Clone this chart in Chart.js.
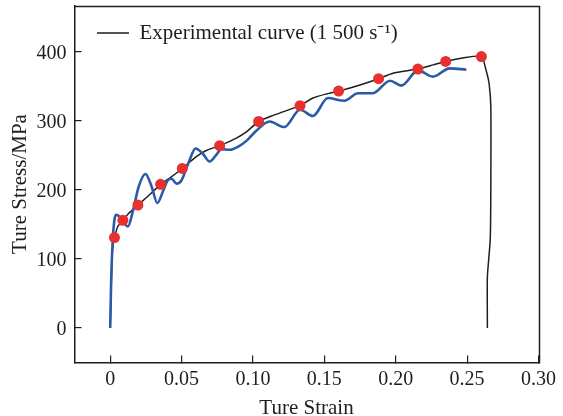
<!DOCTYPE html>
<html>
<head>
<meta charset="utf-8">
<script src="https://cdn.jsdelivr.net/npm/chart.js@4"></script>
<style>
  html, body { margin: 0; padding: 0; background: #fff; }
  #wrap { width: 563px; height: 416px; position: relative; }
</style>
</head>
<body>
<div id="wrap"><canvas id="c"></canvas></div>
<script>
// ---- Data ----
const expStrain = [0, 0.0005, 0.001, 0.0014, 0.002, 0.003, 0.0053, 0.0089, 0.013, 0.0194, 0.0276, 0.0353, 0.0416, 0.0505, 0.0603, 0.0673, 0.0767, 0.0884, 0.0954, 0.104, 0.113, 0.121, 0.133, 0.142, 0.1516, 0.160, 0.175, 0.188, 0.198, 0.2155, 0.2263, 0.235, 0.247, 0.260, 0.2637, 0.2654, 0.2666, 0.2666, 0.2662, 0.2642, 0.2642];
const expStress = [0, 40, 80, 108, 120, 131, 147, 156, 166, 178, 193, 208, 217, 231, 248, 257, 264, 275, 284, 299, 307, 313, 322, 333, 339, 343, 352, 361, 369, 375, 381, 386, 391, 393, 370, 354, 321, 200, 128, 74, 0];

const simStrain = [0, 0.0003, 0.0007, 0.0018, 0.003, 0.0042, 0.0077, 0.0124, 0.016, 0.020, 0.0247, 0.029, 0.033, 0.037, 0.0404, 0.043, 0.0465, 0.050, 0.055, 0.0598, 0.065, 0.0696, 0.074, 0.078, 0.084, 0.090, 0.096, 0.102, 0.1117, 0.122, 0.133, 0.142, 0.1525, 0.164, 0.1736, 0.184, 0.196, 0.204, 0.2156, 0.226, 0.2378, 0.2495];
const simStress = [0, 30, 70, 128, 157, 164, 159, 147, 170, 205, 223, 205, 181, 198, 214, 216, 209, 214, 240, 260, 252, 241, 250, 259, 258, 263, 272, 285, 299, 291, 316, 307, 333, 329, 340, 340, 358, 351, 373, 364, 376, 374];

const markStrain = [0.003, 0.0089, 0.0194, 0.0353, 0.0505, 0.0767, 0.104, 0.133, 0.160, 0.188, 0.2155, 0.235, 0.260];
const markStress = [131, 156, 178, 208, 231, 264, 299, 322, 343, 361, 375, 386, 393];

const xTickLabels = ['0', '0.05', '0.10', '0.15', '0.20', '0.25', '0.30'];
const yTickLabels = ['0', '100', '200', '300', '400'];

const seriesNames = ['Experimental curve (1 500 s\u207B\u00B9)', 'Simulated curve', 'Sample points'];
const xTitle = 'Ture Strain';
const yTitle = 'Ture Stress/MPa';

// ---- Build chart ----
const toPts = (xs, ys) => xs.map((x, i) => ({ x: x, y: ys[i] }));
const FONT = 'Liberation Serif, Times New Roman, serif';
const INK = '#1e1e1e';

const framePlugin = {
  id: 'frame',
  afterDraw(chart) {
    const a = chart.chartArea, ctx = chart.ctx;
    ctx.save();
    ctx.strokeStyle = INK;
    ctx.lineWidth = 1.5;
    ctx.beginPath();
    ctx.moveTo(Math.round(a.left) - 0.5, Math.round(a.top) + 0.5);
    ctx.lineTo(Math.round(a.right) + 0.5, Math.round(a.top) + 0.5);
    ctx.lineTo(Math.round(a.right) + 0.5, Math.round(a.bottom) + 0.5);
    ctx.stroke();
    ctx.restore();
  }
};

new Chart(document.getElementById('c'), {
  type: 'scatter',
  data: {
    datasets: [
      {
        label: seriesNames[0],
        data: toPts(expStrain, expStress),
        showLine: true,
        borderColor: INK,
        backgroundColor: INK,
        borderWidth: 1.5,
        pointRadius: 0,
        tension: 0.2,
        order: 3
      },
      {
        label: seriesNames[1],
        data: toPts(simStrain, simStress),
        showLine: true,
        borderColor: '#2a5ba8',
        backgroundColor: '#2a5ba8',
        borderWidth: 2.6,
        pointRadius: 0,
        cubicInterpolationMode: 'monotone',
        order: 2
      },
      {
        label: seriesNames[2],
        data: toPts(markStrain, markStress),
        showLine: false,
        pointRadius: 5.5,
        pointBackgroundColor: '#e8302e',
        pointBorderColor: '#e8302e',
        pointBorderWidth: 0,
        order: 1
      }
    ]
  },
  options: {
    responsive: true,
    maintainAspectRatio: false,
    animation: false,
    layout: { padding: { left: 0, top: 5.5, right: 24.5, bottom: 0 } },
    plugins: {
      tooltip: { enabled: false },
      legend: {
        position: 'chartArea',
        align: 'start',
        labels: {
          filter: (item) => item.datasetIndex === 0,
          boxWidth: 32,
          boxHeight: 0,
          padding: 22.5,
          color: INK,
          font: { family: FONT, size: 21 }
        }
      }
    },
    scales: {
      x: {
        type: 'linear',
        position: 'bottom',
        min: -0.025,
        max: 0.30,
        afterFit: (s) => { s.height = 53.5; s.paddingLeft = 0; s.paddingRight = 0; },
        ticks: {
          stepSize: 0.05,
          includeBounds: false,
          color: INK,
          padding: 12.5,
          maxRotation: 0,
          font: { family: FONT, size: 20 },
          callback: (v, i) => xTickLabels[i]
        },
        grid: { display: true, drawOnChartArea: false, drawTicks: true, tickLength: -7, color: INK, lineWidth: 1.2 },
        border: { display: true, color: INK, width: 1.5 },
        title: { display: true, text: xTitle, color: INK, font: { family: FONT, size: 21 }, padding: { top: 0, bottom: -5 } }
      },
      y: {
        type: 'linear',
        position: 'left',
        min: -50,
        max: 467,
        afterFit: (s) => { s.width = 74.5; s.paddingTop = 0; s.paddingBottom = 0; },
        ticks: {
          stepSize: 100,
          includeBounds: false,
          color: INK,
          padding: 15,
          labelOffset: 1.5,
          font: { family: FONT, size: 20 },
          callback: (v, i) => yTickLabels[i]
        },
        grid: { display: true, drawOnChartArea: false, drawTicks: true, tickLength: -7, color: INK, lineWidth: 1.2 },
        border: { display: true, color: INK, width: 1.5 },
        title: { display: true, text: yTitle, color: INK, font: { family: FONT, size: 21 }, padding: { top: 7.5, bottom: 0 } }
      }
    }
  },
  plugins: [framePlugin]
});
</script>
</body>
</html>
